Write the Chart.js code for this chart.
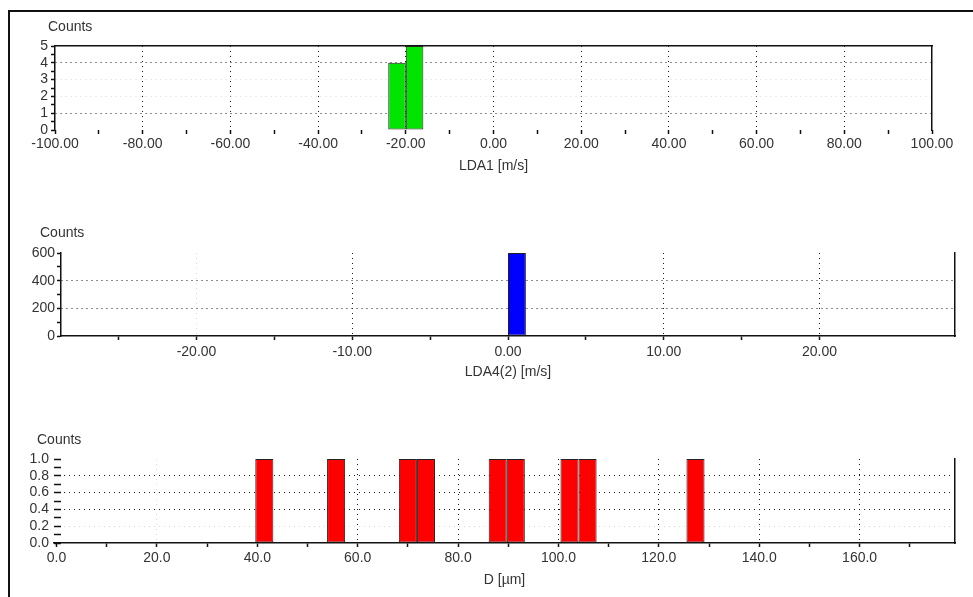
<!DOCTYPE html>
<html><head><meta charset="utf-8">
<script src="https://cdn.jsdelivr.net/npm/chart.js@4.4.1/dist/chart.umd.min.js"></script>
<style>
html,body{margin:0;padding:0;background:#fff;width:973px;height:597px;overflow:hidden;}
#frame{position:absolute;left:8px;top:10px;width:1200px;height:800px;border-left:2px solid #111;border-top:2px solid #111;}
.pane{position:absolute;left:0;width:973px;}
</style></head><body>
<div id="frame"></div>
<div class="pane" style="top:0;height:185px"><canvas id="c1"></canvas></div>
<div class="pane" style="top:200px;height:190px"><canvas id="c2"></canvas></div>
<div class="pane" style="top:400px;height:197px"><canvas id="c3"></canvas></div>
<script>
// ---- Panel 1: LDA1 [m/s]
const lda1Bins = [-22, -18];
const lda1Counts = [4, 5];
const lda1XTicks = [-100,-90,-80,-70,-60,-50,-40,-30,-20,-10,0,10,20,30,40,50,60,70,80,90,100];
const lda1XLabels = [-100,-80,-60,-40,-20,0,20,40,60,80,100];
const lda1YTicks = [0,0.5,1,1.5,2,2.5,3,3.5,4,4.5,5];
const lda1YLabels = [0,1,2,3,4,5];

// ---- Panel 2: LDA4(2) [m/s]
const lda4Bins = [0.574, 1.722];
const lda4Counts = [600, 0];
const lda4XTicks = [-25,-20,-15,-10,-5,0,5,10,15,20];
const lda4XLabels = [-20,-10,0,10,20];
const lda4YTicks = [0,100,200,300,400,500,600];
const lda4YLabels = [0,200,400,600];

// ---- Panel 3: D [µm]
const dBins = [41.4, 55.7, 70.0, 73.6, 87.9, 91.5, 102.2, 105.8, 127.3];
const dCounts = [1, 1, 1, 1, 1, 1, 1, 1, 1];
const dXTicks = [0,10,20,30,40,50,60,70,80,90,100,110,120,130,140,150,160,170];
const dXLabels = [0,20,40,60,80,100,120,140,160];
const dYTicks = [0,0.1,0.2,0.3,0.4,0.5,0.6,0.7,0.8,0.9,1.0];
const dYLabels = [0,0.2,0.4,0.6,0.8,1.0];

const TEXT = '#333';
const AXIS = '#111';
const DOT = '#1a1a1a';
const LIGHT = '#d9d9d9';
const FONT = "'Liberation Sans', Arial, sans-serif";

Chart.defaults.font.family = FONT;
Chart.defaults.font.size = 14;
Chart.defaults.color = TEXT;

// Draws the horizontal "Counts" caption above the top-left corner of the plot area
const cornerLabel = {
  id: 'cornerLabel',
  afterDraw(chart, args, opts) {
    const {ctx, chartArea} = chart;
    ctx.save();
    ctx.font = '14px ' + FONT;
    ctx.fillStyle = TEXT;
    ctx.textAlign = 'left';
    ctx.textBaseline = 'middle';
    ctx.fillText(opts.text, chartArea.left + opts.dx, chartArea.top + opts.dy);
    ctx.restore();
  }
};

function makeChart(id, c) {
  const scales = {
    x: {
      type: 'linear', position: 'bottom', min: c.xMin, max: c.xMax, offset: false,
      afterBuildTicks: s => { s.ticks = c.xTicks.map(v => ({value: v})); },
      ticks: { autoSkip: false, maxRotation: 0, minRotation: 0, padding: c.xLabelPad,
        callback: v => c.xLabels.includes(v) ? v.toFixed(c.xDigits) : '' },
      grid: { offset: false, color: ctx => ctx.tick ? c.xGrid(ctx.tick.value) : 'transparent',
        lineWidth: 1, tickLength: 4, tickColor: AXIS, tickWidth: 1.5 },
      border: { display: c.xBorder, color: AXIS, width: 1.5, dash: [1, 4] },
      title: { display: true, text: c.xTitle, color: TEXT, padding: {top: 0, bottom: c.xTitlePad} },
      afterFit: s => { s.height = c.xHeight; s.paddingLeft = 0; s.paddingRight = 0; }
    },
    y: {
      type: 'linear', position: 'left', min: 0, max: c.yMax,
      afterBuildTicks: s => { s.ticks = c.yTicks.map(v => ({value: v})); },
      ticks: { autoSkip: false, padding: c.yLabelPad,
        callback: v => c.yLabels.includes(v) ? v.toFixed(c.yDigits) : '' },
      grid: { color: ctx => ctx.tick ? c.yGrid(ctx.tick.value) : 'transparent',
        lineWidth: 1, tickLength: c.yTickLen, tickColor: AXIS, tickWidth: 1.5 },
      border: { display: c.yBorder, color: AXIS, width: 1.5, dash: [1, 4] },
      afterFit: s => { s.width = c.yWidth; s.paddingTop = 0; s.paddingBottom = 0; }
    },
    yRight: {
      type: 'linear', axis: 'y', position: 'right', min: 0, max: 1,
      ticks: { display: false }, grid: { display: false, drawTicks: false, drawOnChartArea: false },
      border: { display: true, color: AXIS, width: 1.5 },
      afterFit: s => { s.width = 0; s.paddingTop = 0; s.paddingBottom = 0; }
    }
  };
  if (c.topBorder) {
    scales.xTop = {
      type: 'linear', axis: 'x', position: 'top', min: 0, max: 1,
      ticks: { display: false }, grid: { display: false, drawTicks: false, drawOnChartArea: false },
      border: { display: true, color: AXIS, width: 1.5 },
      afterFit: s => { s.height = 0; s.paddingLeft = 0; s.paddingRight = 0; }
    };
  }
  return new Chart(document.getElementById(id), {
    type: 'bar',
    data: { datasets: [{
      data: c.bins.map((x, i) => ({x: x, y: c.counts[i]})),
      backgroundColor: c.color, borderColor: '#222', borderWidth: 1,
      borderSkipped: false, inflateAmount: 0,
      barPercentage: 1, categoryPercentage: 1
    }]},
    options: {
      responsive: true, maintainAspectRatio: false, animation: false, events: [],
      layout: { padding: c.padding },
      plugins: {
        legend: { display: false }, tooltip: { enabled: false }, title: { display: false },
        cornerLabel: { text: 'Counts', dx: c.capDx, dy: c.capDy }
      },
      scales: scales
    },
    plugins: [cornerLabel]
  });
}

makeChart('c1', {
  bins: lda1Bins, counts: lda1Counts, color: '#00e400',
  xMin: -100, xMax: 100, xTicks: lda1XTicks, xLabels: lda1XLabels, xDigits: 2,
  xGrid: v => (v > -100 && v < 100 && lda1XLabels.includes(v)) ? DOT : 'transparent',
  yMax: 5, yTicks: lda1YTicks, yLabels: lda1YLabels, yDigits: 0,
  yGrid: v => (v === 1 || v === 4) ? DOT : ((v === 2 || v === 3) ? LIGHT : 'transparent'),
  xTitle: 'LDA1 [m/s]', padding: {left: 0, top: 46, right: 41, bottom: 0},
  capDx: -7, capDy: -19,
  yWidth: 55, yTickLen: 4, yLabelPad: 3, yBorder: true,
  xHeight: 55, xLabelPad: 1.6, xTitlePad: 10.6, xBorder: false, topBorder: true
});

makeChart('c2', {
  bins: lda4Bins, counts: lda4Counts, color: '#0000ff',
  xMin: -28.7, xMax: 28.7, xTicks: lda4XTicks, xLabels: lda4XLabels, xDigits: 2,
  xGrid: v => v === -20 ? LIGHT : (lda4XLabels.includes(v) ? DOT : 'transparent'),
  yMax: 600, yTicks: lda4YTicks, yLabels: lda4YLabels, yDigits: 0,
  yGrid: v => (v === 200 || v === 400) ? DOT : 'transparent',
  xTitle: 'LDA4(2) [m/s]', padding: {left: 0, top: 53, right: 18, bottom: 0},
  capDx: -21, capDy: -20,
  yWidth: 61, yTickLen: 4, yLabelPad: 2, yBorder: true,
  xHeight: 54, xLabelPad: 3.6, xTitlePad: 9.6, xBorder: true, topBorder: false
});

makeChart('c3', {
  bins: dBins, counts: dCounts, color: '#ff0000',
  xMin: -0.5, xMax: 179, xTicks: dXTicks, xLabels: dXLabels, xDigits: 1,
  xGrid: v => v === 20 ? LIGHT : ((v > 0 && dXLabels.includes(v)) ? DOT : 'transparent'),
  yMax: 1, yTicks: dYTicks, yLabels: dYLabels, yDigits: 1,
  yGrid: v => (v === 0.4 || v === 0.6 || v === 0.8) ? DOT : (v === 0.2 ? LIGHT : 'transparent'),
  xTitle: 'D [µm]', padding: {left: 0, top: 59, right: 18, bottom: 0},
  capDx: -17, capDy: -19,
  yWidth: 54, yTickLen: -7, yLabelPad: 12, yBorder: false,
  xHeight: 54, xLabelPad: 2.6, xTitlePad: 8.6, xBorder: true, topBorder: false
});
</script>
</body></html>
